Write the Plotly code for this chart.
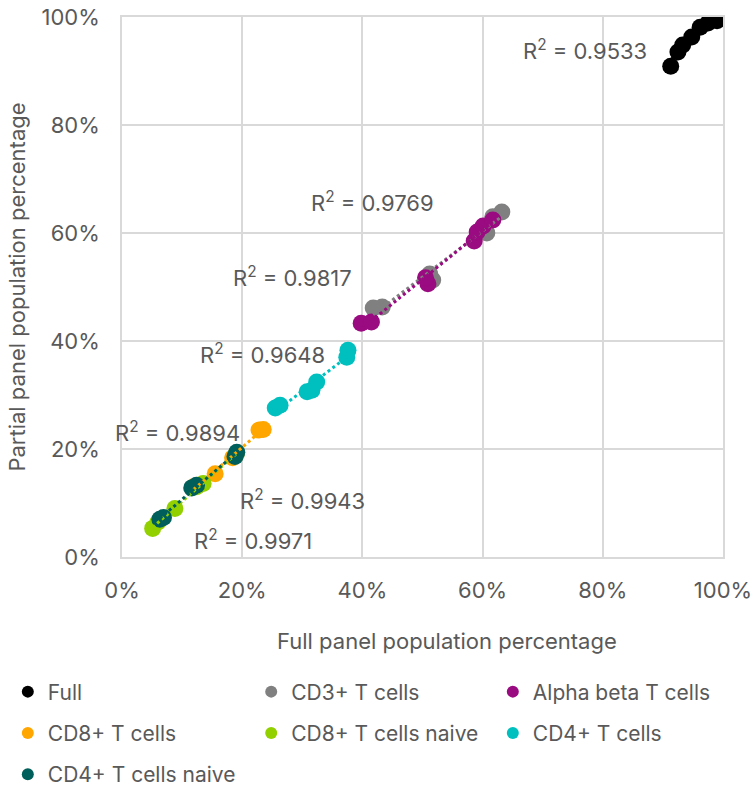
import numpy as np
import plotly.graph_objects as go

# Population percentages: full panel (x) vs partial panel (y)
series_names = ["Full", "CD3+ T cells", "Alpha beta T cells", "CD8+ T cells",
                "CD8+ T cells naive", "CD4+ T cells", "CD4+ T cells naive"]

full_x = [91.3, 92.5, 93.3, 94.8, 96.2, 97.5, 99.0]
full_y = [90.9, 93.5, 94.8, 96.3, 98.1, 98.9, 99.3]

cd3_x = [41.8, 43.3, 51.2, 51.7, 60.7, 61.7, 63.2]
cd3_y = [46.1, 46.3, 52.4, 51.3, 60.0, 63.0, 63.9]

ab_x = [39.8, 41.5, 50.9, 50.5, 58.6, 59.1, 60.1, 61.7]
ab_y = [43.3, 43.5, 50.6, 51.7, 58.5, 60.2, 61.3, 62.4]

cd8_x = [11.9, 12.7, 15.5, 18.4, 22.8, 23.5]
cd8_y = [13.0, 13.3, 15.4, 18.4, 23.5, 23.6]

cd8n_x = [5.1, 6.0, 8.8, 12.4, 13.5, 19.0]
cd8n_y = [5.3, 6.5, 9.0, 13.0, 13.6, 19.0]

cd4_x = [25.5, 26.3, 30.8, 31.6, 32.4, 37.4, 37.6]
cd4_y = [27.6, 28.1, 30.6, 30.9, 32.4, 37.0, 38.3]

cd4n_x = [6.3, 6.9, 11.6, 12.4, 18.8, 19.1]
cd4n_y = [7.0, 7.3, 12.8, 13.3, 18.6, 19.4]

r2_labels = ["0.9533", "0.9769", "0.9817", "0.9648", "0.9894", "0.9943", "0.9971"]

xs = [full_x, cd3_x, ab_x, cd8_x, cd8n_x, cd4_x, cd4n_x]
ys = [full_y, cd3_y, ab_y, cd8_y, cd8n_y, cd4_y, cd4n_y]
colors = ["#000000", "#808080", "#9a0a80", "#ffa600", "#92d000", "#00bfbf", "#005f5a"]
# legend column for each series (three columns below the plot)
legend_ids = ["legend", "legend2", "legend3", "legend", "legend2", "legend3", "legend"]

FONT = "Inter, 'Open Sans', sans-serif"
TXT = "#595959"
FS = 22

fig = go.Figure()

for name, x, y, c, lg in zip(series_names, xs, ys, colors, legend_ids):
    fig.add_trace(go.Scatter(
        x=np.array(x) / 100, y=np.array(y) / 100, mode="markers", name=name,
        marker=dict(color=c, size=17, line=dict(width=0)),
        legend=lg, legendgroup=name,
    ))

# Linear trendlines over each series' x-range
for x, y, c in zip(xs, ys, colors):
    x = np.array(x) / 100
    y = np.array(y) / 100
    m, b = np.polyfit(x, y, 1)
    xl = np.array([x.min(), x.max()])
    fig.add_trace(go.Scatter(
        x=xl, y=m * xl + b, mode="lines", showlegend=False, hoverinfo="skip",
        line=dict(color=c, width=3, dash="dot"),
    ))

# R² label placements (data coordinates, %)
label_pos = [(77.0, 93.9), (41.6, 65.9), (28.3, 52.0), (23.3, 37.6),
             (9.3, 23.3), (30.1, 10.6), (21.8, 3.3)]
for txt, (px, py) in zip(r2_labels, label_pos):
    fig.add_annotation(x=px / 100, y=py / 100, text=f"R<sup>2</sup> = {txt}",
                       showarrow=False, font=dict(family=FONT, size=FS, color=TXT))

# x-axis title
fig.add_annotation(xref="paper", yref="paper", x=0.541, y=-0.156, yanchor="middle",
                   text="Full panel population percentage", showarrow=False,
                   font=dict(family=FONT, size=FS, color=TXT))

legend_common = dict(orientation="v", y=-0.212, yanchor="top", xanchor="left",
                     tracegroupgap=11, font=dict(family=FONT, size=21, color=TXT),
                     bgcolor="rgba(0,0,0,0)", itemsizing="constant")

fig.update_layout(
    width=755, height=791,
    margin=dict(l=122, r=32, t=17, b=234, autoexpand=False),
    paper_bgcolor="white", plot_bgcolor="white",
    font=dict(family=FONT, color=TXT),
    legend=dict(legend_common, x=-0.19),
    legend2=dict(legend_common, x=0.215),
    legend3=dict(legend_common, x=0.617),
    xaxis=dict(range=[0, 1], tickvals=[0, 0.2, 0.4, 0.6, 0.8, 1.0], tickformat=".0%",
               showgrid=True, gridcolor="#d9d9d9", gridwidth=1.5, zeroline=False,
               showline=True, linecolor="#d9d9d9", linewidth=1.5, mirror=True,
               ticks="", ticklabelstandoff=13,
               tickfont=dict(family=FONT, size=FS, color=TXT)),
    yaxis=dict(range=[0, 1], tickvals=[0, 0.2, 0.4, 0.6, 0.8, 1.0], tickformat=".0%",
               showgrid=True, gridcolor="#d9d9d9", gridwidth=1.5, zeroline=False,
               showline=True, linecolor="#d9d9d9", linewidth=1.5, mirror=True,
               ticks="", ticklabelstandoff=16,
               tickfont=dict(family=FONT, size=FS, color=TXT),
               title=dict(text="Partial panel population percentage", standoff=10,
                          font=dict(family=FONT, size=FS, color=TXT))),
)

fig.write_html("out.html")
